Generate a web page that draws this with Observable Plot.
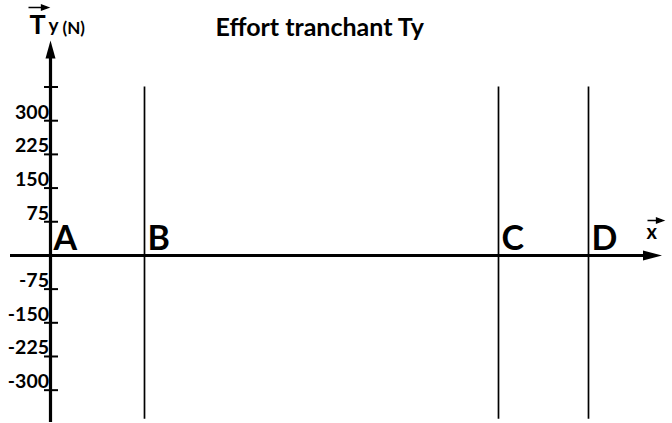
<!DOCTYPE html>
<html><head><meta charset="utf-8">
<script src="https://cdn.jsdelivr.net/npm/d3@7"></script>
<script src="https://cdn.jsdelivr.net/npm/@observablehq/plot@0.6"></script>
<style>
body{margin:0;background:#fff}
#chart{width:672px;height:423px}
#chart svg{display:block}
</style>
</head><body><div id="chart"></div>
<script>
// Data
const pointNames = ["A", "B", "C", "D"];
const pointX = [0, 94, 448, 538];
const tickValues = [375, 300, 225, 150, 75, -75, -150, -225, -300];
const tickLabels = ["", "300", "225", "150", "75", "-75", "-150", "-225", "-300"];
const title = "Effort tranchant Ty";
const yAxisName = "T";
const yAxisSub = "y";
const yAxisUnit = "(N)";
const xAxisName = "x";

// Domains
const xDomain = [-40, 611.5];
const yDomain = [-372, 478.6];
const ruleTop = 375, ruleBottom = -365;

const FONT = "Lato, 'Open Sans', sans-serif";

const headSymbol = (len, half) => ({
  draw(ctx) { ctx.moveTo(0, 0); ctx.lineTo(-half, len); ctx.lineTo(half, len); ctx.closePath(); }
});
const smallArrow = (L) => ({
  draw(ctx) {
    ctx.moveTo(-L, 0); ctx.lineTo(0, 0);
    ctx.moveTo(0, 0); ctx.lineTo(-7, -2.6); ctx.lineTo(-7, 2.6); ctx.closePath();
  }
});

const ticks = tickValues.map((v, i) => ({v, label: tickLabels[i]}));
const points = pointNames.map((n, i) => ({n, x: pointX[i]}));

const plot = Plot.plot({
  width: 672, height: 423,
  marginTop: 0, marginRight: 0, marginBottom: 0, marginLeft: 0,
  style: {fontFamily: FONT, background: "#fff", color: "#000"},
  x: {domain: xDomain, range: [10, 661.5], axis: null},
  y: {domain: yDomain, range: [422, 40], axis: null},
  marks: [
    // vertical section lines
    Plot.ruleX(points.filter(d => d.x !== 0), {x: "x", y1: ruleTop, y2: ruleBottom, stroke: "#000", strokeWidth: 1.7}),
    // x axis
    Plot.ruleY([0], {x1: xDomain[0], x2: xDomain[1] - 12, stroke: "#000", strokeWidth: 3}),
    // y axis
    Plot.ruleX([0], {y1: yDomain[0], y2: yDomain[1] - 20, stroke: "#000", strokeWidth: 3.2}),
    // arrow heads
    Plot.dot([0], {x: 0, y: yDomain[1], symbol: headSymbol(18, 5), fill: "#000", stroke: "none"}),
    Plot.dot([0], {x: xDomain[1], y: 0, symbol: headSymbol(19, 5), rotate: 90, fill: "#000", stroke: "none"}),
    // y ticks
    Plot.ruleY(ticks, {y: "v", x1: -6, x2: 8, stroke: "#000", strokeWidth: 2}),
    // y tick labels
    Plot.text(ticks, {x: 0, y: "v", text: "label", textAnchor: "end", lineAnchor: "bottom", dx: -1.5, dy: -2,
      fontSize: 19.5, fontWeight: "bold", fill: "#000"}),
    // point labels
    Plot.text(points, {x: "x", y: 0, text: "n", textAnchor: "start", lineAnchor: "bottom", dx: 3, dy: -5,
      fontSize: 34, fontWeight: "bold", fill: "#000"}),
    // title
    Plot.text([title], {frameAnchor: "top-left", dx: 215, dy: 35, text: d => d, textAnchor: "start", lineAnchor: "bottom",
      fontSize: 25, fontWeight: "bold", fill: "#000"}),
    // y axis name
    Plot.text([yAxisName], {frameAnchor: "top-left", dx: 29, dy: 33, text: d => d, textAnchor: "start", lineAnchor: "bottom",
      fontSize: 27, fontWeight: "bold", fill: "#000"}),
    Plot.text([yAxisSub], {frameAnchor: "top-left", dx: 48, dy: 31, text: d => d, textAnchor: "start", lineAnchor: "bottom",
      fontSize: 19, fontWeight: "bold", fill: "#000"}),
    Plot.text([yAxisUnit], {frameAnchor: "top-left", dx: 62, dy: 33, text: d => d, textAnchor: "start", lineAnchor: "bottom",
      fontSize: 17, fontWeight: "bold", fill: "#000"}),
    Plot.dot([0], {frameAnchor: "top-left", dx: 48, dy: 7, symbol: smallArrow(20), fill: "#000", stroke: "#000", strokeWidth: 1.3}),
    // x axis name
    Plot.text([xAxisName], {frameAnchor: "top-left", dx: 646, dy: 238, text: d => d, textAnchor: "start", lineAnchor: "bottom",
      fontSize: 20, fontWeight: "bold", fill: "#000"}),
    Plot.dot([0], {frameAnchor: "top-left", dx: 663, dy: 220, symbol: smallArrow(16), fill: "#000", stroke: "#000", strokeWidth: 1.3})
  ]
});
document.getElementById("chart").appendChild(plot);
</script>
</body></html>
